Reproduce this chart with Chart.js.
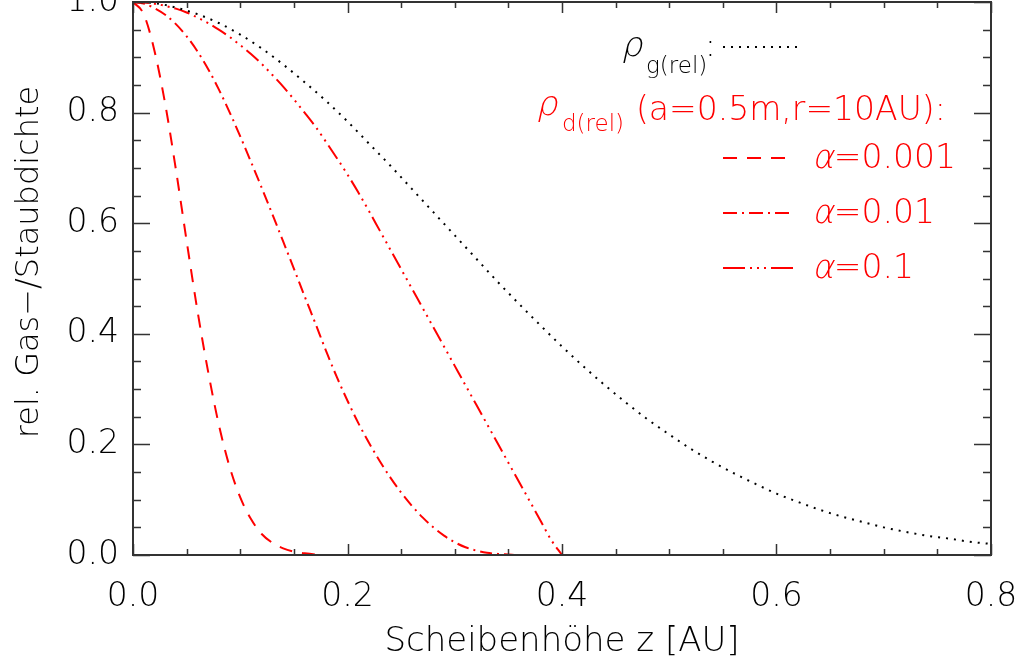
<!DOCTYPE html>
<html>
<head>
<meta charset="utf-8">
<script src="https://cdn.jsdelivr.net/npm/chart.js@4/dist/chart.umd.min.js"></script>
<style>
html, body { margin: 0; padding: 0; background: #fff; }
#wrap { width: 1026px; height: 663px; }
</style>
</head>
<body>
<div id="wrap"><canvas id="dichteChart"></canvas></div>
<script>
// Scheibenhöhe z [AU]
const zGas = [0.00, 0.02, 0.04, 0.06, 0.08, 0.10, 0.12, 0.14, 0.16, 0.18,
              0.20, 0.22, 0.24, 0.26, 0.28, 0.30, 0.32, 0.34, 0.36, 0.38,
              0.40, 0.42, 0.44, 0.46, 0.48, 0.50, 0.52, 0.54, 0.56, 0.58,
              0.60, 0.62, 0.64, 0.66, 0.68, 0.70, 0.72, 0.74, 0.76, 0.78, 0.80];
const rhoGas = [1.000, 0.998, 0.990, 0.978, 0.962, 0.941, 0.916, 0.887, 0.855, 0.821,
                0.784, 0.744, 0.704, 0.662, 0.620, 0.578, 0.536, 0.494, 0.454, 0.415,
                0.377, 0.341, 0.307, 0.275, 0.245, 0.218, 0.192, 0.169, 0.148, 0.129,
                0.111, 0.096, 0.082, 0.070, 0.060, 0.050, 0.042, 0.035, 0.030, 0.024, 0.020];

const zDust = [0.00, 0.01, 0.02, 0.03, 0.04, 0.05, 0.06, 0.07, 0.08, 0.09,
               0.10, 0.11, 0.12, 0.13, 0.14, 0.15, 0.16, 0.17, 0.18, 0.19,
               0.20, 0.21, 0.22, 0.23, 0.24, 0.25, 0.26, 0.27, 0.28, 0.29,
               0.30, 0.31, 0.32, 0.33, 0.34, 0.35, 0.36, 0.37, 0.38, 0.39, 0.40];
// alpha = 0.001
const rhoDust001 = [1.000, 0.978, 0.912, 0.816, 0.697, 0.568, 0.443, 0.332, 0.236, 0.160,
                    0.104, 0.065, 0.038, 0.022, 0.012, 0.006, 0.003, 0.001, 0, 0,
                    0, 0, 0, 0, 0, 0, 0, 0, 0, 0,
                    0, 0, 0, 0, 0, 0, 0, 0, 0, 0, 0];
// alpha = 0.01
const rhoDust01 = [1.000, 0.997, 0.989, 0.977, 0.960, 0.938, 0.911, 0.879, 0.842, 0.801,
                   0.757, 0.711, 0.664, 0.616, 0.567, 0.518, 0.468, 0.419, 0.369, 0.322,
                   0.279, 0.239, 0.203, 0.170, 0.140, 0.113, 0.089, 0.068, 0.050, 0.035,
                   0.023, 0.014, 0.008, 0.004, 0.002, 0.001, 0, 0, 0, 0, 0];
// alpha = 0.1
const rhoDust1 = [1.000, 0.999, 0.997, 0.993, 0.988, 0.981, 0.972, 0.962, 0.950, 0.937,
                  0.922, 0.906, 0.888, 0.868, 0.847, 0.824, 0.800, 0.775, 0.747, 0.718,
                  0.688, 0.656, 0.622, 0.587, 0.552, 0.517, 0.482, 0.447, 0.412, 0.377,
                  0.342, 0.307, 0.272, 0.237, 0.202, 0.167, 0.132, 0.097, 0.062, 0.027, 0.000];

const xTicks = [0.0, 0.2, 0.4, 0.6, 0.8];
const xMinorTicks = [0.05, 0.1, 0.15, 0.25, 0.3, 0.35, 0.45, 0.5, 0.55, 0.65, 0.7, 0.75];
const yTicks = [0.0, 0.2, 0.4, 0.6, 0.8, 1.0];
const yMinorTicks = [0.05, 0.1, 0.15, 0.25, 0.3, 0.35, 0.45, 0.5, 0.55, 0.65, 0.7, 0.75, 0.85, 0.9, 0.95];

const schrift = "'DejaVu Sans', sans-serif";
const rot = "#ff0000";

function punkte(xs, ys) {
    return xs.map((x, i) => ({ x: x, y: ys[i] }));
}

// Rahmen mit Ticks nach innen auf allen vier Seiten, dazu der y-Titel
const rahmenPlugin = {
    id: "rahmen",
    afterDatasetsDraw(chart) {
        const { ctx, chartArea: a, scales: { x, y } } = chart;
        ctx.save();
        ctx.strokeStyle = "#333";
        ctx.lineWidth = 2;
        ctx.strokeRect(a.left, a.top, a.right - a.left, a.bottom - a.top);
        ctx.lineWidth = 1.5;
        ctx.beginPath();
        const xStrich = (v, len) => {
            const px = Math.round(x.getPixelForValue(v)) + 0.5;
            ctx.moveTo(px, a.bottom); ctx.lineTo(px, a.bottom - len);
            ctx.moveTo(px, a.top); ctx.lineTo(px, a.top + len);
        };
        const yStrich = (v, len) => {
            const py = Math.round(y.getPixelForValue(v)) + 0.5;
            ctx.moveTo(a.left, py); ctx.lineTo(a.left + len, py);
            ctx.moveTo(a.right, py); ctx.lineTo(a.right - len, py);
        };
        xTicks.forEach(v => xStrich(v, 11));
        xMinorTicks.forEach(v => xStrich(v, 6));
        yTicks.forEach(v => yStrich(v, 17));
        yMinorTicks.forEach(v => yStrich(v, 8));
        ctx.stroke();

        ctx.translate(38, 262);
        ctx.rotate(-Math.PI / 2);
        ctx.fillStyle = "#000";
        ctx.font = "200 32px " + schrift;
        ctx.textAlign = "center";
        ctx.textBaseline = "alphabetic";
        ctx.fillText("rel. Gas−/Staubdichte", 0, 0);
        ctx.restore();
    }
};

// schräg gestelltes griechisches Zeichen (dünne Schrift hat keine Kursive)
function schraeg(ctx, zeichen, x, y, size) {
    ctx.save();
    ctx.font = "200 " + size + "px " + schrift;
    ctx.translate(x, y);
    ctx.transform(1, 0, -0.22, 1, 0, 0);
    ctx.fillText(zeichen, 0, 0);
    const w = ctx.measureText(zeichen).width;
    ctx.restore();
    return w;
}

// Legende oben rechts
const legendePlugin = {
    id: "legende",
    afterDraw(chart) {
        const ctx = chart.ctx;
        ctx.save();
        ctx.textBaseline = "alphabetic";
        ctx.textAlign = "left";

        const muster = (x1, x2, y, dash, farbe, breite) => {
            ctx.beginPath();
            ctx.setLineDash(dash);
            ctx.strokeStyle = farbe;
            ctx.lineWidth = breite;
            ctx.moveTo(x1, y);
            ctx.lineTo(x2, y);
            ctx.stroke();
            ctx.setLineDash([]);
        };

        // Gas
        ctx.fillStyle = "#000";
        schraeg(ctx, "ρ", 621, 56, 34);
        ctx.font = "200 23px " + schrift;
        ctx.fillText("g(rel)", 646, 73);
        ctx.font = "300 32px " + schrift;
        ctx.fillText(":", 705, 56);
        muster(723, 799, 47, [2, 6], "#000", 2);

        // Staub
        ctx.fillStyle = rot;
        schraeg(ctx, "ρ", 536, 115, 34);
        ctx.font = "200 23px " + schrift;
        ctx.fillText("d(rel)", 562, 131);
        ctx.font = "200 33px " + schrift;
        ctx.fillText("(a=0.5m,r=10AU):", 636, 120);

        const eintraege = [
            { text: "=0.001", y: 168, ende: 785, dash: [14, 10] },
            { text: "=0.01", y: 223, ende: 792, dash: [14, 5, 2, 5] },
            { text: "=0.1", y: 278, ende: 795, dash: [22, 5, 2, 5, 2, 5, 2, 5] }
        ];
        eintraege.forEach(e => {
            muster(723, e.ende, e.y - 10, e.dash, rot, 2);
            ctx.fillStyle = rot;
            const w = schraeg(ctx, "α", 812, e.y, 33);
            ctx.font = "200 33px " + schrift;
            ctx.fillText(e.text, 810 + w + 2, e.y);
        });
        ctx.restore();
    }
};

new Chart(document.getElementById("dichteChart"), {
    type: "line",
    data: {
        datasets: [
            {
                label: "ρg(rel)",
                data: punkte(zGas, rhoGas),
                borderColor: "#000",
                borderWidth: 2,
                borderDash: [2, 6],
                pointRadius: 0,
                cubicInterpolationMode: "monotone"
            },
            {
                label: "α=0.001",
                data: punkte(zDust, rhoDust001),
                borderColor: rot,
                borderWidth: 2,
                borderDash: [13, 10],
                pointRadius: 0,
                cubicInterpolationMode: "monotone"
            },
            {
                label: "α=0.01",
                data: punkte(zDust, rhoDust01),
                borderColor: rot,
                borderWidth: 2,
                borderDash: [12, 5, 2, 5],
                pointRadius: 0,
                cubicInterpolationMode: "monotone"
            },
            {
                label: "α=0.1",
                data: punkte(zDust, rhoDust1),
                borderColor: rot,
                borderWidth: 2,
                borderDash: [16, 5, 2, 5, 2, 5, 2, 5],
                pointRadius: 0,
                cubicInterpolationMode: "monotone"
            }
        ]
    },
    options: {
        responsive: true,
        maintainAspectRatio: false,
        animation: false,
        layout: { padding: { top: 2, right: 35, left: 0, bottom: 0 } },
        plugins: {
            legend: { display: false },
            tooltip: { enabled: false }
        },
        scales: {
            x: {
                type: "linear",
                min: 0,
                max: 0.8,
                afterFit: s => { s.height = 108; s.paddingLeft = 0; s.paddingRight = 0; },
                grid: { display: false, drawTicks: false },
                border: { display: false },
                ticks: {
                    stepSize: 0.2,
                    maxRotation: 0,
                    padding: 23,
                    color: "#000",
                    font: { family: schrift, size: 33, weight: 200 },
                    callback: v => v.toFixed(1)
                },
                title: {
                    display: true,
                    text: "Scheibenhöhe z [AU]",
                    color: "#000",
                    font: { family: schrift, size: 34, weight: 200 },
                    padding: { top: 12, bottom: 0 }
                }
            },
            y: {
                min: 0,
                max: 1,
                afterFit: s => { s.width = 133; s.paddingTop = 0; s.paddingBottom = 0; },
                grid: { display: false, drawTicks: false },
                border: { display: false },
                ticks: {
                    stepSize: 0.2,
                    padding: 14,
                    color: "#000",
                    font: { family: schrift, size: 33, weight: 200 },
                    callback: v => v.toFixed(1)
                },
                title: { display: false }
            }
        }
    },
    plugins: [rahmenPlugin, legendePlugin]
});
</script>
</body>
</html>
